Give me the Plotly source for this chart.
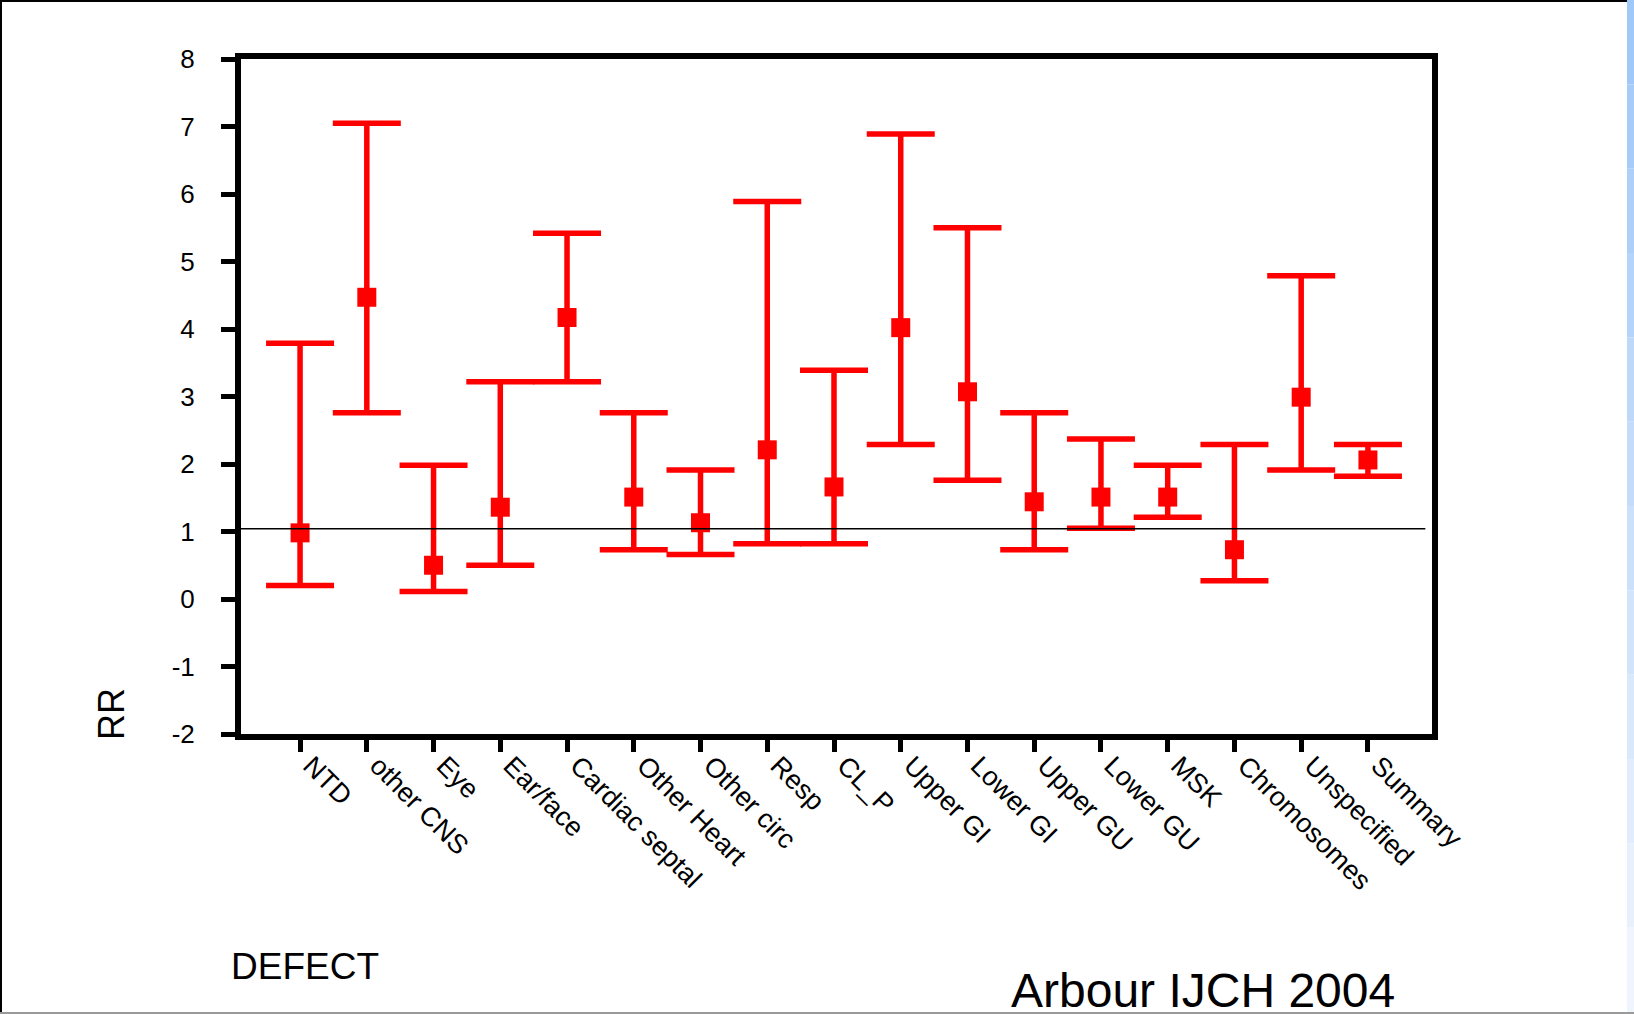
import plotly.graph_objects as go

categories = ["NTD", "other CNS", "Eye", "Ear/face", "Cardiac septal", "Other Heart",
              "Other circ", "Resp", "CL_P", "Upper GI", "Lower GI", "Upper GU",
              "Lower GU", "MSK", "Chromosomes", "Unspecified", "Summary"]
rr =    [0.98, 4.47, 0.50, 1.36, 4.17, 1.51, 1.13, 2.21, 1.66, 4.02, 3.07, 1.44, 1.51, 1.51, 0.73, 2.99, 2.06]
upper = [3.79, 7.05, 1.98, 3.22, 5.42, 2.76, 1.91, 5.89, 3.39, 6.89, 5.50, 2.76, 2.37, 1.98, 2.29, 4.79, 2.29]
lower = [0.20, 2.76, 0.11, 0.50, 3.22, 0.73, 0.66, 0.82, 0.82, 2.29, 1.76, 0.73, 1.05, 1.21, 0.27, 1.91, 1.82]
y_ticks = [-2, -1, 0, 1, 2, 3, 4, 5, 6, 7, 8]
y_tick_labels = ["-2", "-1", "0", "1", "2", "3", "4", "5", "6", "7", "8"]
ref_value = 1.04

W, H = 1634, 1014
L, R, T, B = 241, 1432, 59, 734
FONT = "Liberation Sans, Arial, sans-serif"

def px(x):
    return (x - L) / (R - L)

def py(y):
    return (B - y) / (B - T)

fig = go.Figure()
fig.add_trace(go.Scatter(
    x=list(range(len(categories))), y=rr, mode="markers",
    marker=dict(symbol="square", size=19, color="#ff0000"),
    error_y=dict(type="data", symmetric=False,
                 array=[u - m for u, m in zip(upper, rr)],
                 arrayminus=[m - l for m, l in zip(rr, lower)],
                 color="#ff0000", thickness=5.5, width=34),
    showlegend=False, hoverinfo="skip"))

shapes = []
# reference line
shapes.append(dict(type="line", xref="x", yref="y", x0=-0.885, x1=16.86,
                   y0=ref_value, y1=ref_value, line=dict(color="black", width=1.5)))
# slide border lines
shapes.append(dict(type="rect", xref="paper", yref="paper", x0=px(0), x1=px(2),
                   y0=py(H), y1=py(0), fillcolor="black", line_width=0, layer="above"))
shapes.append(dict(type="rect", xref="paper", yref="paper", x0=px(0), x1=px(1627),
                   y0=py(2), y1=py(0), fillcolor="black", line_width=0, layer="above"))
shapes.append(dict(type="rect", xref="paper", yref="paper", x0=px(0), x1=px(W),
                   y0=py(H), y1=py(1012), fillcolor="#9a9a9a", line_width=0, layer="above"))
# right blue gradient strip
n = 12
for i in range(n):
    t = i / (n - 1)
    r_ = int(160 + (240 - 160) * t)
    g_ = int(200 + (245 - 200) * t)
    b_ = int(248 + (253 - 248) * t)
    y0 = (1012 / n) * i
    y1 = (1012 / n) * (i + 1)
    shapes.append(dict(type="rect", xref="paper", yref="paper", x0=px(1627), x1=px(W),
                       y0=py(y1), y1=py(y0), fillcolor=f"rgb({r_},{g_},{b_})",
                       line_width=0, layer="above"))

annotations = [
    dict(text="RR", xref="paper", yref="paper", x=px(111), y=py(714), showarrow=False,
         textangle=-90, font=dict(family=FONT, size=36, color="black"),
         xanchor="center", yanchor="middle"),
    dict(text="DEFECT", xref="paper", yref="paper", x=px(229), y=py(966), showarrow=False,
         font=dict(family=FONT, size=37, color="black"), xanchor="left", yanchor="middle"),
    dict(text="Arbour IJCH 2004", xref="paper", yref="paper", x=px(1009), y=py(990),
         showarrow=False, font=dict(family=FONT, size=48, color="black"),
         xanchor="left", yanchor="middle"),
]

fig.update_layout(
    width=W, height=H,
    margin=dict(l=L, r=W - R, t=T, b=H - B, pad=0),
    paper_bgcolor="white", plot_bgcolor="white",
    font=dict(family=FONT, color="black"),
    shapes=shapes, annotations=annotations,
    xaxis=dict(range=[-0.885, 16.96], tickmode="array",
               tickvals=list(range(len(categories))), ticktext=categories,
               tickangle=45, tickfont=dict(family=FONT, size=27, color="black"),
               ticklabelshift=11, ticklabelstandoff=-13,
               showline=True, linecolor="black", linewidth=6, mirror=True,
               ticks="outside", ticklen=12, tickwidth=4.5, tickcolor="black",
               showgrid=False, zeroline=False, fixedrange=True),
    yaxis=dict(range=[-2, 8], tickmode="array", tickvals=y_ticks, ticktext=y_tick_labels,
               tickfont=dict(family=FONT, size=26, color="black"),
               showline=True, linecolor="black", linewidth=6, mirror=True,
               ticks="outside", ticklen=14, tickwidth=4.5, tickcolor="black",
               ticklabelstandoff=21,
               showgrid=False, zeroline=False, fixedrange=True),
)

fig.write_html("out.html", config={"displayModeBar": False},
               post_script="document.body.style.margin='0';document.body.style.overflow='hidden';")
